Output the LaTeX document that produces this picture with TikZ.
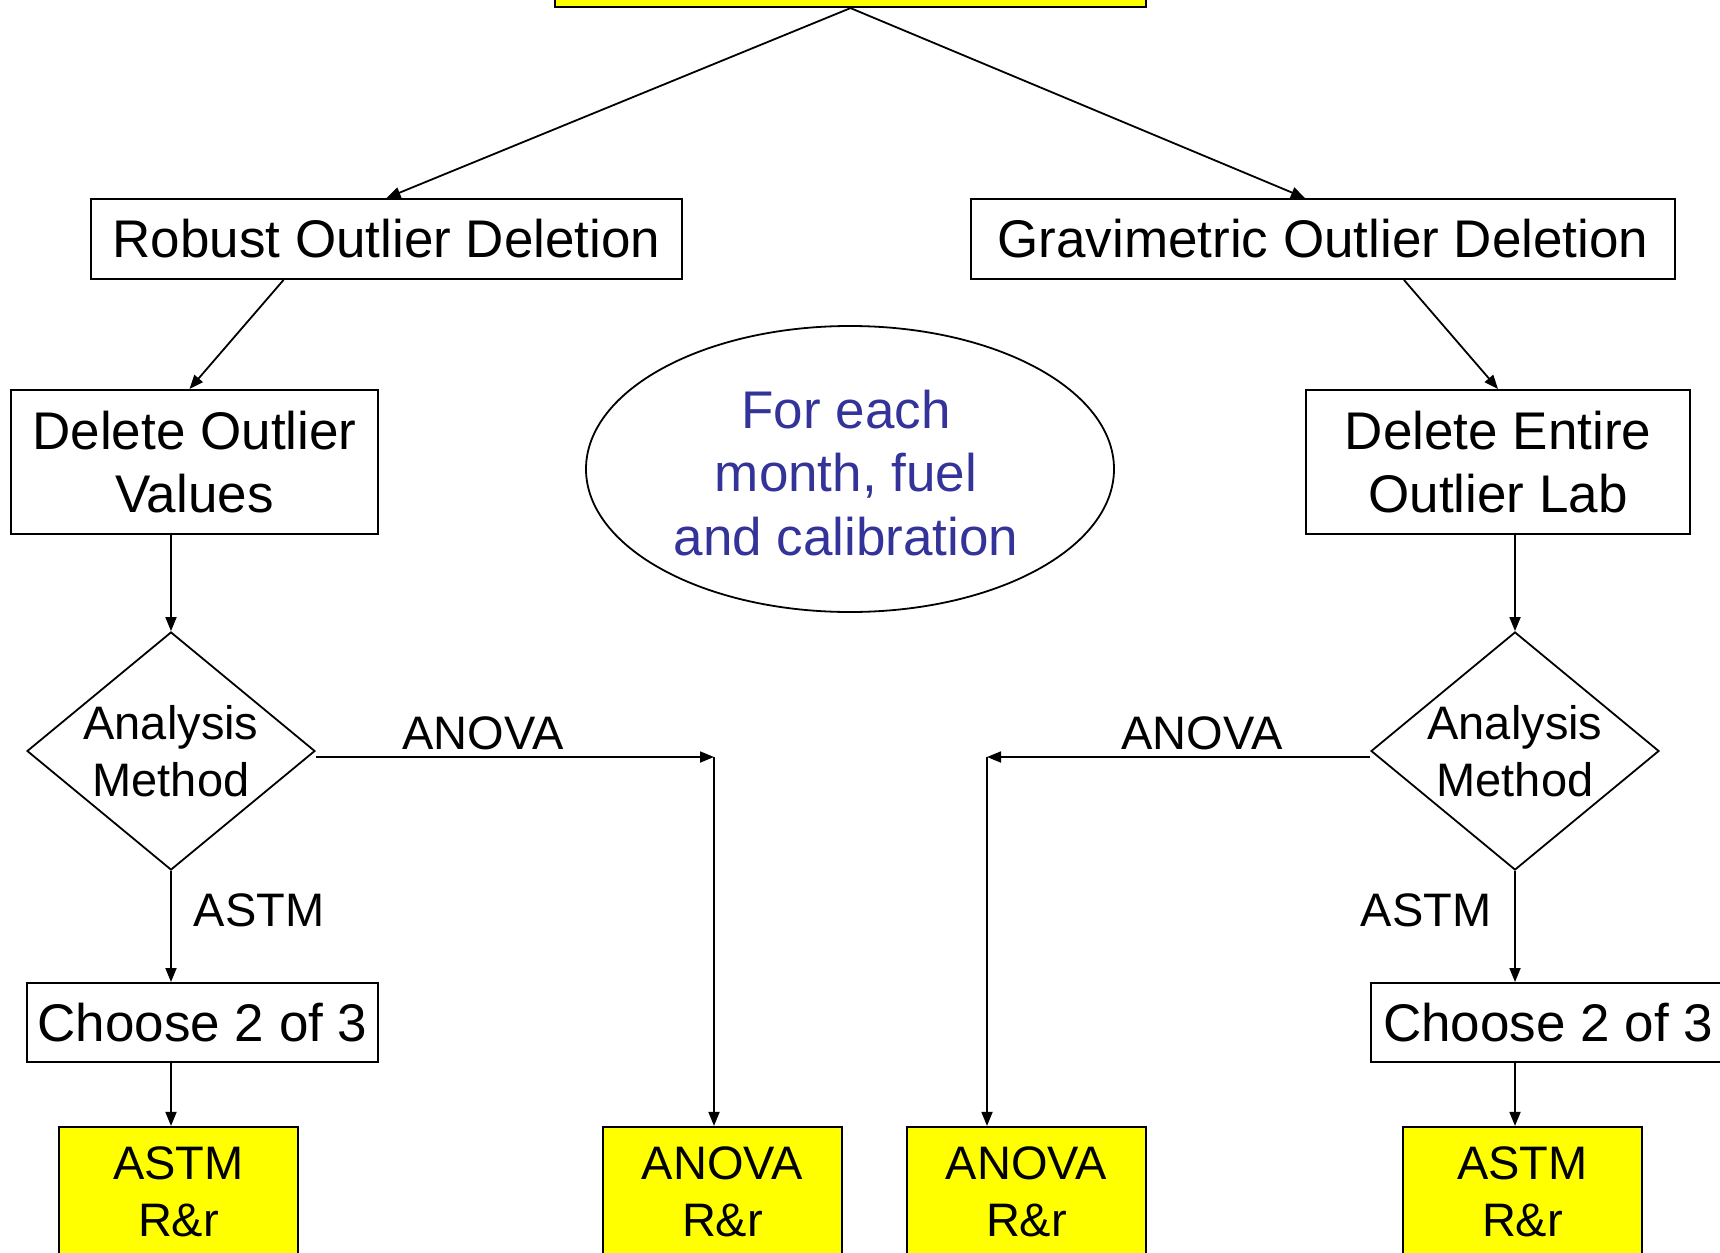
\documentclass[tikz,border=0pt]{standalone}
\usepackage{fontspec}
\setmainfont{Liberation Sans}
\usetikzlibrary{shapes.geometric,arrows.meta}
\definecolor{yellowc}{RGB}{255,255,0}
\definecolor{etext}{RGB}{51,51,153}
\begin{document}
\begin{tikzpicture}[x=1pt,y=-1pt,
  big/.style={font=\fontsize{53}{63.6}\selectfont},
  small/.style={font=\fontsize{47}{56.4}\selectfont},
  box/.style={draw, line width=2pt, rectangle, inner sep=0pt, align=center, big},
  ybox/.style={draw, line width=2.2pt, rectangle, inner sep=0pt, align=center, small, fill=yellowc, minimum width=239pt, minimum height=130pt},
  conn/.style={line width=1.8pt, -{Triangle[length=14pt,width=11pt]}},
  lbl/.style={inner sep=0pt, align=center, small}]
\useasboundingbox (0,0) rectangle (1720,1252);
% top box
\node[ybox, minimum width=591pt, minimum height=80pt] (top) at (850.5,-33) {};
% second row
\node[box, minimum width=591pt, minimum height=80pt] (robust) at (386.5,239) {Robust Outlier Deletion};
\node[box, minimum width=704pt, minimum height=80pt] (grav) at (1323,239) {Gravimetric Outlier Deletion};
% third row
\node[box, minimum width=367pt, minimum height=144pt] (dov) at (194.5,462) {Delete Outlier\\Values};
\node[box, minimum width=384pt, minimum height=144pt] (del) at (1498,462) {Delete Entire\\Outlier Lab};
\node[draw, ellipse, line width=1.8pt, inner sep=0pt, minimum width=528pt, minimum height=286pt] (ell) at (850,469) {};
\node[inner sep=0pt, align=center, big, text=etext] (ellt) at (846,473) {For each\\month, fuel\\and calibration};
% diamonds
\node[draw, diamond, line width=1.8pt, inner sep=0pt, minimum width=288pt, minimum height=238pt] (dL) at (171,751) {};
\node[lbl] (dLt) at (dL.center) {Analysis\\Method};
\node[draw, diamond, line width=1.8pt, inner sep=0pt, minimum width=288pt, minimum height=238pt] (dR) at (1515,751) {};
\node[lbl] (dRt) at (dR.center) {Analysis\\Method};
% choose boxes
\node[box, minimum width=351pt, minimum height=79pt] (chL) at (202.5,1022.5) {Choose 2 of 3};
\node[box, minimum width=354pt, minimum height=79pt] (chR) at (1548,1022.5) {Choose 2 of 3};
% bottom boxes
\node[ybox] (astmL) at (178.5,1192) {ASTM\\R\&r};
\node[ybox] (anovaL) at (722.5,1192) {ANOVA\\R\&r};
\node[ybox] (anovaR) at (1026.5,1192) {ANOVA\\R\&r};
\node[ybox] (astmR) at (1522.5,1192) {ASTM\\R\&r};
% labels
\node[lbl] (lanL) at (483,733) {ANOVA};
\node[lbl] (lanR) at (1202,733) {ANOVA};
\node[lbl] (lasL) at (259,910) {ASTM};
\node[lbl] (lasR) at (1426,910) {ASTM};
% bend points
\coordinate (aL) at (714,757);
\coordinate (aR) at (987,757);
% connectors
\draw[conn] (top.south) -- (robust.north);
\draw[conn] (top.south) -- ([xshift=-18pt]grav.north);
\draw[conn] ([xshift=-103pt]robust.south) -- ([xshift=-5pt]dov.north);
\draw[conn] ([xshift=81pt]grav.south) -- (del.north);
\draw[conn] (dov.south -| dL) -- (dL.north);
\draw[conn] (del.south -| dR) -- (dR.north);
\draw[conn] (dL.south) -- (dL.south |- chL.north);
\draw[conn] (dR.south) -- (dR.south |- chR.north);
\draw[conn] (chL.south -| dL) -- (astmL.north -| dL);
\draw[conn] (chR.south -| dR) -- (astmR.north -| dR);
\draw[conn] (dL.east |- aL) -- (aL);
\draw[conn] (aL) -- (aL |- anovaL.north);
\draw[conn] (dR.west |- aR) -- (aR);
\draw[conn] (aR) -- (aR |- anovaR.north);
\end{tikzpicture}
\end{document}
